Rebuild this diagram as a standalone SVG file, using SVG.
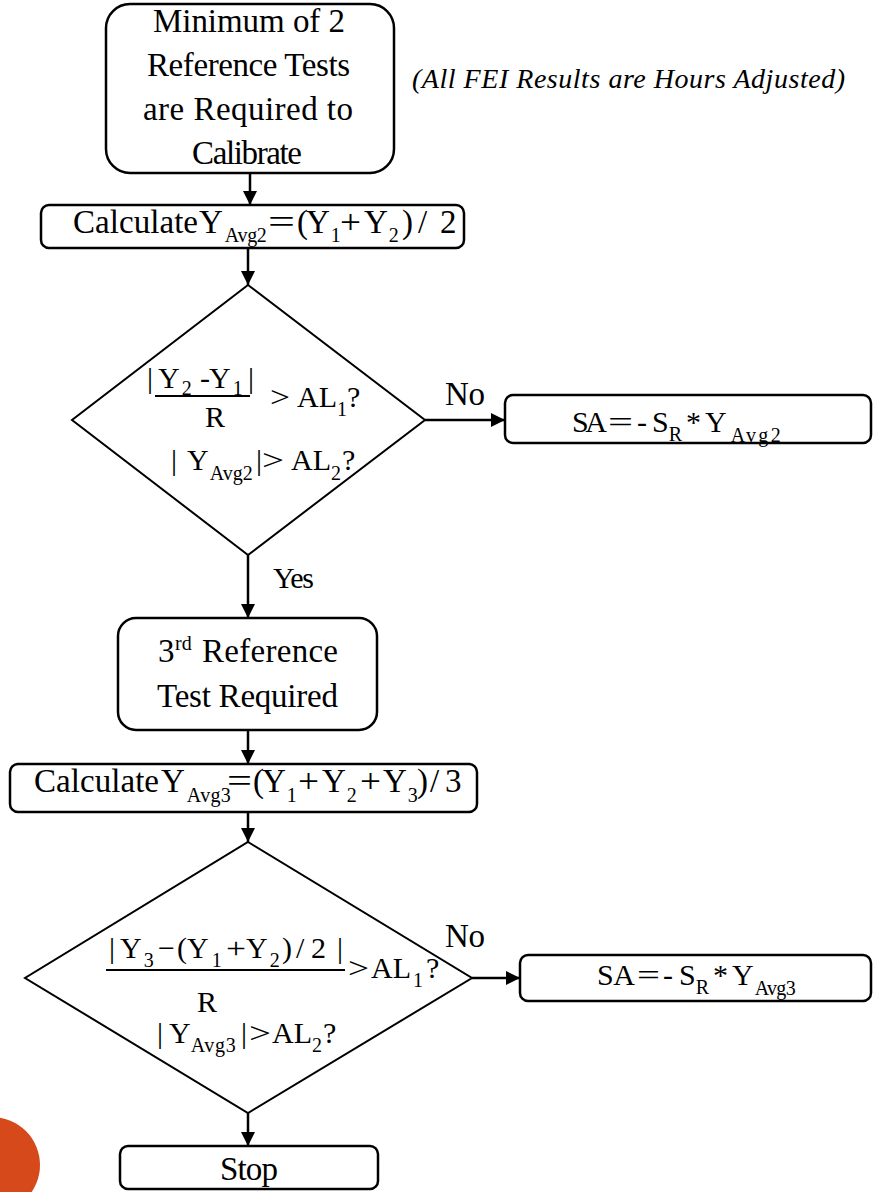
<svg xmlns="http://www.w3.org/2000/svg" width="873" height="1192" viewBox="0 0 873 1192" font-family="'Liberation Serif', 'Times New Roman', Times, 'DejaVu Serif', serif">
<style>
.box{fill:#fff;stroke:#000;stroke-width:2.5}
.dia{fill:#fff;stroke:#000;stroke-width:2}
.con{stroke:#000;stroke-width:2.5;fill:none;marker-end:url(#arr)}
.fr{stroke:#000;stroke-width:2}
text{font-family:'Liberation Serif','Times New Roman',Times,'DejaVu Serif',serif;fill:#000}
.m{font-size:33px}
.d{font-size:30px}
.s{font-size:20px}
.it{font-size:28px;font-style:italic}
</style>
<defs>
<marker id="arr" markerUnits="userSpaceOnUse" markerWidth="15" markerHeight="15" refX="14" refY="7" orient="auto">
<path d="M0,0 L14,7 L0,14 Z" fill="#000"/>
</marker>
</defs>
<rect width="873" height="1192" fill="#fff"/>
<circle cx="-8" cy="1165" r="48" fill="#D5491A"/>

<g id="connectors">
<line class="con" x1="250" y1="173" x2="250" y2="205"/>
<line class="con" x1="248" y1="248" x2="248" y2="285"/>
<line class="con" x1="425" y1="420" x2="505" y2="420"/>
<line class="con" x1="248" y1="555" x2="248" y2="618"/>
<line class="con" x1="248" y1="730" x2="248" y2="764"/>
<line class="con" x1="248" y1="812" x2="248" y2="842"/>
<line class="con" x1="472" y1="978" x2="520" y2="978"/>
<line class="con" x1="248" y1="1113" x2="248" y2="1146"/>
<text class="m" x="445" y="405" textLength="40">No</text>
<text class="d" x="273" y="588" textLength="41">Yes</text>
<text class="m" x="445" y="947" textLength="40">No</text>
</g>

<g id="start">
<rect class="box" x="106" y="4" width="288" height="169" rx="24"/>
<text class="m" x="153" y="32" textLength="192">Minimum of 2</text>
<text class="m" x="147" y="76" textLength="203">Reference Tests</text>
<text class="m" x="143" y="120" textLength="210">are Required to</text>
<text class="m" x="192" y="164" textLength="110">Calibrate</text>
</g>

<g id="note">
<text class="it" x="412" y="88" textLength="433">(All FEI Results are Hours Adjusted)</text>
</g>

<g id="calc2">
<rect class="box" x="41" y="205" width="423" height="43" rx="8"/>
<text class="m"><tspan x="73" y="233" textLength="125">Calculate</tspan><tspan x="199" y="233">Y</tspan><tspan class="s" dx="2" y="242" textLength="42">Avg2</tspan><tspan x="268" y="233" textLength="27" lengthAdjust="spacingAndGlyphs">=</tspan><tspan x="297" y="233">(</tspan><tspan x="306" y="233">Y</tspan><tspan class="s" dx="1" y="242">1</tspan><tspan x="340" y="233" textLength="21" lengthAdjust="spacingAndGlyphs">+</tspan><tspan x="364" y="233">Y</tspan><tspan class="s" dx="1" y="242">2</tspan><tspan x="402" y="233">)</tspan><tspan x="418" y="233">/</tspan><tspan x="440" y="233">2</tspan></text>
</g>

<g id="decision1">
<polygon class="dia" points="248,285 425,420 248,555 72,420"/>
<line class="fr" x1="155" y1="396" x2="250" y2="396"/>
<text class="d"><tspan x="147" y="388">|</tspan><tspan x="158" y="388">Y</tspan><tspan class="s" dx="2" y="395">2</tspan><tspan x="200" y="388">-</tspan><tspan x="209" y="388">Y</tspan><tspan class="s" dx="2" y="395">1</tspan><tspan x="248" y="388">|</tspan></text>
<text class="d" x="205" y="427">R</text>
<text class="d"><tspan x="270" y="407" textLength="20" lengthAdjust="spacingAndGlyphs">&gt;</tspan><tspan x="297" y="407">AL</tspan><tspan class="s" y="416">1</tspan><tspan x="347" y="407">?</tspan></text>
<text class="d"><tspan x="171" y="470">|</tspan><tspan x="187" y="470">Y</tspan><tspan class="s" dx="1" y="480" textLength="43">Avg2</tspan><tspan x="256" y="470">|</tspan><tspan x="262" y="470" textLength="22" lengthAdjust="spacingAndGlyphs">&gt;</tspan><tspan x="291" y="470">AL</tspan><tspan class="s" y="480">2</tspan><tspan x="342" y="470">?</tspan></text>
</g>

<g id="sa2">
<rect class="box" x="505" y="395" width="366" height="48" rx="8"/>
<text class="d"><tspan x="572" y="432" textLength="35">SA</tspan><tspan x="608" y="432" textLength="25" lengthAdjust="spacingAndGlyphs">=</tspan><tspan x="637" y="432">-</tspan><tspan x="652" y="432">S</tspan><tspan class="s" y="441">R</tspan><tspan x="686" y="432">*</tspan><tspan x="705" y="432">Y</tspan><tspan class="s" dx="4" y="442" textLength="50">Avg2</tspan></text>
</g>

<g id="third">
<rect class="box" x="118" y="618" width="259" height="112" rx="18"/>
<text class="m"><tspan x="158" y="662">3</tspan><tspan class="s" x="175" y="650">rd</tspan><tspan x="202" y="662" textLength="136">Reference</tspan></text>
<text class="m" x="157" y="707" textLength="181">Test Required</text>
</g>

<g id="calc3">
<rect class="box" x="10" y="764" width="467" height="48" rx="8"/>
<text class="m"><tspan x="34" y="792" textLength="125">Calculate</tspan><tspan x="161" y="792">Y</tspan><tspan class="s" dx="2" y="802" textLength="44">Avg3</tspan><tspan x="227" y="792" textLength="25" lengthAdjust="spacingAndGlyphs">=</tspan><tspan x="253" y="792">(</tspan><tspan x="262" y="792">Y</tspan><tspan class="s" dx="1" y="802">1</tspan><tspan x="298" y="792" textLength="21" lengthAdjust="spacingAndGlyphs">+</tspan><tspan x="322" y="792">Y</tspan><tspan class="s" dx="1" y="802">2</tspan><tspan x="360" y="792" textLength="21" lengthAdjust="spacingAndGlyphs">+</tspan><tspan x="383" y="792">Y</tspan><tspan class="s" dx="1" y="802">3</tspan><tspan x="417" y="792">)</tspan><tspan x="430" y="792">/</tspan><tspan x="445" y="792">3</tspan></text>
</g>

<g id="decision2">
<polygon class="dia" points="248,842 472,978 248,1113 25,978"/>
<line class="fr" x1="106" y1="970" x2="345" y2="970"/>
<text class="d"><tspan x="109" y="958">|</tspan><tspan x="120" y="958">Y</tspan><tspan class="s" dx="2" y="967">3</tspan><tspan x="158" y="958">−</tspan><tspan x="177" y="958">(</tspan><tspan x="187" y="958">Y</tspan><tspan class="s" dx="3" y="967">1</tspan><tspan x="226" y="958" textLength="20" lengthAdjust="spacingAndGlyphs">+</tspan><tspan x="246" y="958">Y</tspan><tspan class="s" dx="2" y="967">2</tspan><tspan x="282" y="958">)</tspan><tspan x="296" y="958">/</tspan><tspan x="311" y="958">2</tspan><tspan x="337" y="958">|</tspan></text>
<text class="d"><tspan x="348" y="978" textLength="21" lengthAdjust="spacingAndGlyphs">&gt;</tspan><tspan x="371" y="978">AL</tspan><tspan class="s" dx="2" y="987">1</tspan><tspan x="426" y="978">?</tspan></text>
<text class="d" x="197" y="1012">R</text>
<text class="d"><tspan x="157" y="1043">|</tspan><tspan x="169" y="1043">Y</tspan><tspan class="s" y="1052" textLength="45">Avg3</tspan><tspan x="241" y="1043">|</tspan><tspan x="249" y="1043" textLength="22" lengthAdjust="spacingAndGlyphs">&gt;</tspan><tspan x="272" y="1043">AL</tspan><tspan class="s" y="1052">2</tspan><tspan x="323" y="1043">?</tspan></text>
</g>

<g id="sa3">
<rect class="box" x="520" y="955" width="351" height="46" rx="8"/>
<text class="d"><tspan x="597" y="985" textLength="38">SA</tspan><tspan x="637" y="985" textLength="23" lengthAdjust="spacingAndGlyphs">=</tspan><tspan x="663" y="985">-</tspan><tspan x="679" y="985">S</tspan><tspan class="s" y="994">R</tspan><tspan x="713" y="985">*</tspan><tspan x="732" y="985">Y</tspan><tspan class="s" dx="1" y="995" textLength="41">Avg3</tspan></text>
</g>

<g id="stop">
<rect class="box" x="120" y="1146" width="258" height="43" rx="8"/>
<text class="m" x="220" y="1180" textLength="58">Stop</text>
</g>
</svg>
